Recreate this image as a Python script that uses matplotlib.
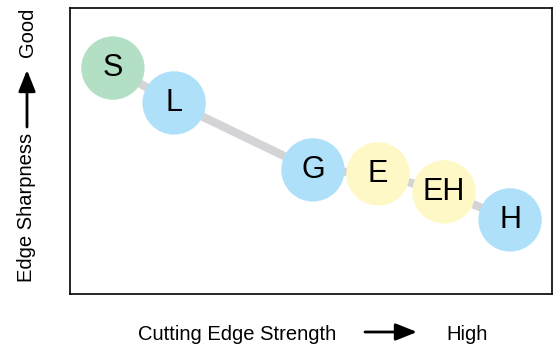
import matplotlib.pyplot as plt
from matplotlib.patches import FancyArrowPatch

plt.rcParams['font.family'] = ['Liberation Sans', 'DejaVu Sans']

# steel grades: position on strength (x) vs sharpness (y), 0-10 scale
labels = ["S", "L", "G", "E", "EH", "H"]
strength = [0.89, 2.16, 5.04, 6.39, 7.76, 9.13]
sharpness = [7.9, 6.68, 4.34, 4.2, 3.57, 2.59]
colors = ["#b3dfc4", "#aee0fa", "#aee0fa", "#fef8c6", "#fef8c6", "#aee0fa"]

fig = plt.figure(figsize=(5.53, 3.49), dpi=100)
ax = fig.add_axes([70 / 553, 55 / 349, 482 / 553, 286 / 349])

ax.plot(strength, sharpness, color="#d4d4d6", lw=6, zorder=1, solid_capstyle="butt")
ax.scatter(strength, sharpness, s=2080, c=colors, edgecolors="none", zorder=2)
for lab, x, y in zip(labels, strength, sharpness):
    ax.text(x, y, lab, ha="center", va="center", fontsize=22, zorder=3)

ax.set_xlim(0, 10)
ax.set_ylim(0, 10)
ax.set_xticks([])
ax.set_yticks([])
for sp in ax.spines.values():
    sp.set_linewidth(1.2)


def fig_arrow(p0, p1):
    # p0, p1 in pixel coords measured from the top-left corner
    a = FancyArrowPatch((p0[0] / 553, 1 - p0[1] / 349), (p1[0] / 553, 1 - p1[1] / 349),
                        transform=fig.transFigure, arrowstyle="-|>,head_length=0.5,head_width=0.2",
                        mutation_scale=26, lw=2, color="black", shrinkA=0, shrinkB=0)
    fig.patches.append(a)


# axis captions with arrows
fig.text(237.5 / 553, 1 - 334 / 349, "Cutting Edge Strength", ha="center", va="center", fontsize=14.5)
fig.text(467 / 553, 1 - 334 / 349, "High", ha="center", va="center", fontsize=14.5)
fig_arrow((365, 332), (417, 332))

fig.text(27 / 553, 1 - 207 / 349, "Edge Sharpness", ha="center", va="center", fontsize=14.5, rotation=90)
fig.text(27 / 553, 1 - 32 / 349, "Good", ha="center", va="center", fontsize=14.5, rotation=90)
fig_arrow((27, 127), (27, 70))

fig.savefig("out.png", dpi=100)
